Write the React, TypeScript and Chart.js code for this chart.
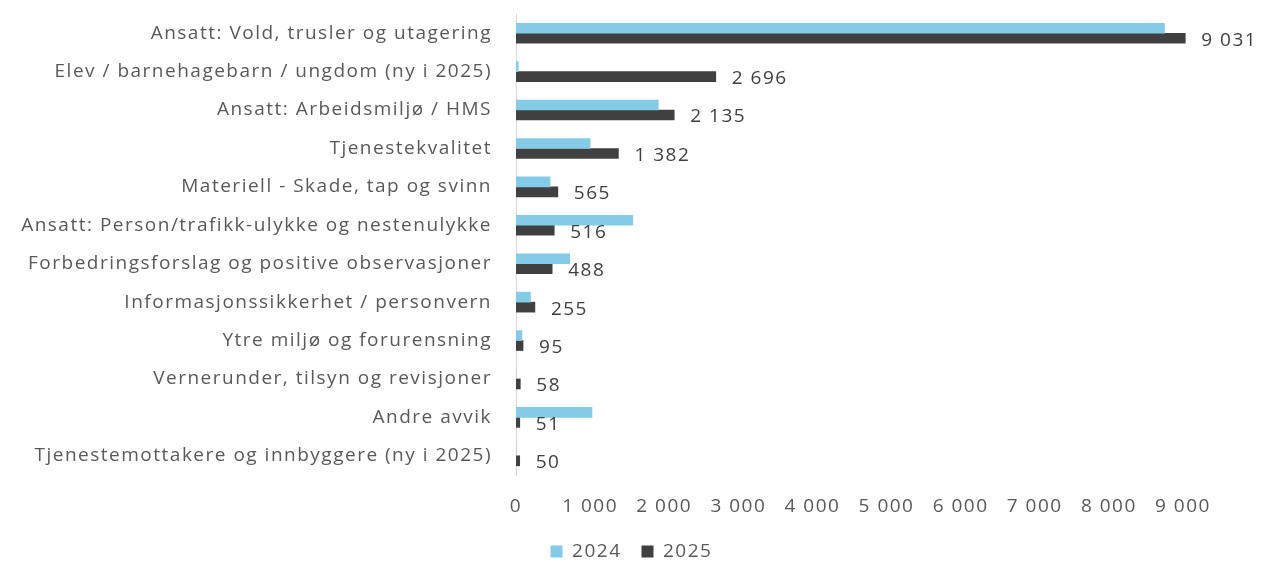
import React, { useEffect, useRef } from "react";
import { Chart, registerables } from "chart.js";

Chart.register(...registerables);

const categories: string[] = [
  "Ansatt: Vold, trusler og utagering",
  "Elev / barnehagebarn / ungdom (ny i 2025)",
  "Ansatt: Arbeidsmiljø / HMS",
  "Tjenestekvalitet",
  "Materiell - Skade, tap og svinn",
  "Ansatt: Person/trafikk-ulykke og nestenulykke",
  "Forbedringsforslag og positive observasjoner",
  "Informasjonssikkerhet / personvern",
  "Ytre miljø og forurensning",
  "Vernerunder, tilsyn og revisjoner",
  "Andre avvik",
  "Tjenestemottakere og innbyggere (ny i 2025)",
];

const values2024: number[] = [8750, 30, 1920, 1000, 460, 1575, 725, 195, 80, 0, 1025, 0];
const values2025: number[] = [9031, 2696, 2135, 1382, 565, 516, 488, 255, 95, 58, 51, 50];

const seriesLabels: string[] = ["2024", "2025"];
const xTickValues: number[] = [0, 1000, 2000, 3000, 4000, 5000, 6000, 7000, 8000, 9000];

const FONT = "'Open Sans', 'Noto Sans', sans-serif";
const TEXT = "#595959";
const SPACING = "1.5px";

const fmt = (v: number) => String(v).replace(/\B(?=(\d{3})+(?!\d))/g, " ");

const spacingPlugin = {
  id: "spacing",
  beforeLayout(chart: any) {
    chart.ctx.letterSpacing = SPACING;
  },
  beforeDraw(chart: any) {
    chart.ctx.letterSpacing = SPACING;
  },
};

const labelPlugin = {
  id: "valueLabels",
  afterDatasetsDraw(chart: any) {
    const ctx = chart.ctx;
    const meta = chart.getDatasetMeta(1);
    ctx.save();
    ctx.letterSpacing = SPACING;
    ctx.font = `19px ${FONT}`;
    ctx.fillStyle = "#404040";
    ctx.textAlign = "left";
    ctx.textBaseline = "middle";
    meta.data.forEach((el: any, i: number) => {
      ctx.fillText(fmt(values2025[i]), el.x + 16, el.y + 2);
    });
    ctx.restore();
  },
};

export default function App() {
  const ref = useRef<HTMLCanvasElement | null>(null);
  useEffect(() => {
    if (!ref.current) return;
    const chart = new Chart(ref.current, {
      type: "bar",
      data: {
        labels: categories,
        datasets: [
          {
            label: seriesLabels[0],
            data: values2024,
            backgroundColor: "#84CBE8",
            barThickness: 10,
          },
          {
            label: seriesLabels[1],
            data: values2025,
            backgroundColor: "#404040",
            barThickness: 10,
          },
        ],
      },
      options: {
        indexAxis: "y",
        animation: false,
        responsive: true,
        maintainAspectRatio: false,
        layout: { padding: { top: 14, right: 0, bottom: -7, left: 0 } },
        plugins: {
          legend: {
            position: "bottom",
            labels: {
              boxWidth: 12,
              boxHeight: 12,
              padding: 20,
              color: TEXT,
              font: { family: FONT, size: 19 },
            },
          },
          tooltip: { enabled: false },
        },
        scales: {
          x: {
            min: 0,
            max: 10080,
            afterBuildTicks: (s: any) => {
              s.ticks = xTickValues.map((v) => ({ value: v }));
            },
            afterFit: (s: any) => {
              s.height = 47;
              s.paddingLeft = 0;
              s.paddingRight = 0;
            },
            grid: { display: false, drawTicks: false },
            border: { display: false },
            ticks: {
              padding: 20,
              color: TEXT,
              font: { family: FONT, size: 19 },
              callback: (v: any) => fmt(Number(v)),
            },
          },
          y: {
            afterFit: (s: any) => {
              s.width = 516;
              s.paddingTop = 0;
              s.paddingBottom = 0;
            },
            grid: { display: false, drawTicks: false },
            border: { display: true, color: "#d9d9d9", width: 1 },
            ticks: {
              padding: 24,
              color: TEXT,
              font: { family: FONT, size: 19 },
              autoSkip: false,
            },
          },
        },
      },
      plugins: [spacingPlugin, labelPlugin],
    });
    return () => chart.destroy();
  }, []);
  return (
    <div style={{ position: "fixed", left: 0, top: 0, width: 1263, height: 564, background: "#fff" }}>
      <canvas ref={ref} />
    </div>
  );
}
